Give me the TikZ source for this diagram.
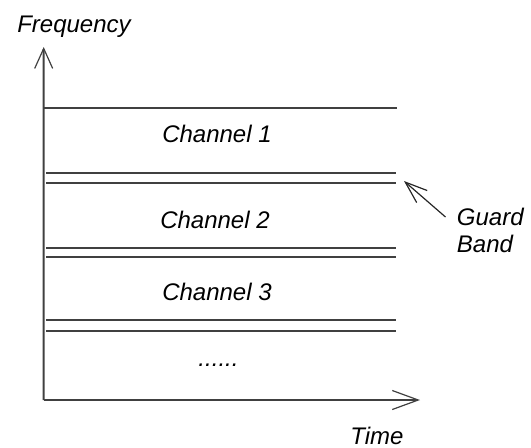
\documentclass[tikz,border=0pt]{standalone}
\usepackage{fontspec}
\setmainfont{Liberation Sans}
\usetikzlibrary{arrows.meta}
\tikzset{
	axisline/.style={line width=1pt, draw=black!75},
	bandline/.style={line width=1pt, draw=black!75},
	axisarr/.style={-{Straight Barb[length=10pt, width=9pt, line width=0.6pt]}},
	guardarr/.style={-{Straight Barb[length=11pt, width=8pt, line width=0.6pt]}, line width=0.6pt, draw=black!85},
	chanlabel/.style={font=\fontsize{12}{13.5}\selectfont\itshape, inner sep=0pt}
}

\begin{document}
\begin{tikzpicture}[x=0.5pt, y=-0.5pt]
	\useasboundingbox (0,0) rectangle (531,447);
	\coordinate (origin) at (43.5,400);
	\coordinate (ftip) at (43.7,47);
	\coordinate (ttip) at (420,400);
	\coordinate (gap) at (404,181);
	\draw[axisline, axisarr] (origin) -- (ftip);
	\draw[axisline, -{Straight Barb[length=13pt, width=9.5pt, line width=0.6pt]}] (origin) -- (ttip);
	\draw[bandline] (43.5,108) -- (397,108);
	\foreach \ya/\yb in {173/183, 248/257, 320/330.5}{
		\draw[bandline] (46,\ya) -- (396,\ya);
		\draw[bandline] (46,\yb) -- (396,\yb);
	}
	\node[chanlabel, anchor=base] (freq) at (74,32) {Frequency};
	\node[chanlabel, anchor=base] (time) at (377,444) {Time};
	\node[chanlabel, anchor=base] (ch1) at (217,142) {Channel 1};
	\node[chanlabel, anchor=base] (ch2) at (215,228) {Channel 2};
	\node[chanlabel, anchor=base] (ch3) at (217,300.5) {Channel 3};
	\node[chanlabel, anchor=base] (more) at (218.5,366) {......};
	\node[chanlabel, anchor=west, align=left] (guard) at (456.5,230) {Guard\\Band};
	\draw[guardarr] ([xshift=-5.5pt, yshift=6.5pt]guard.west) -- (gap);
\end{tikzpicture}
\end{document}
